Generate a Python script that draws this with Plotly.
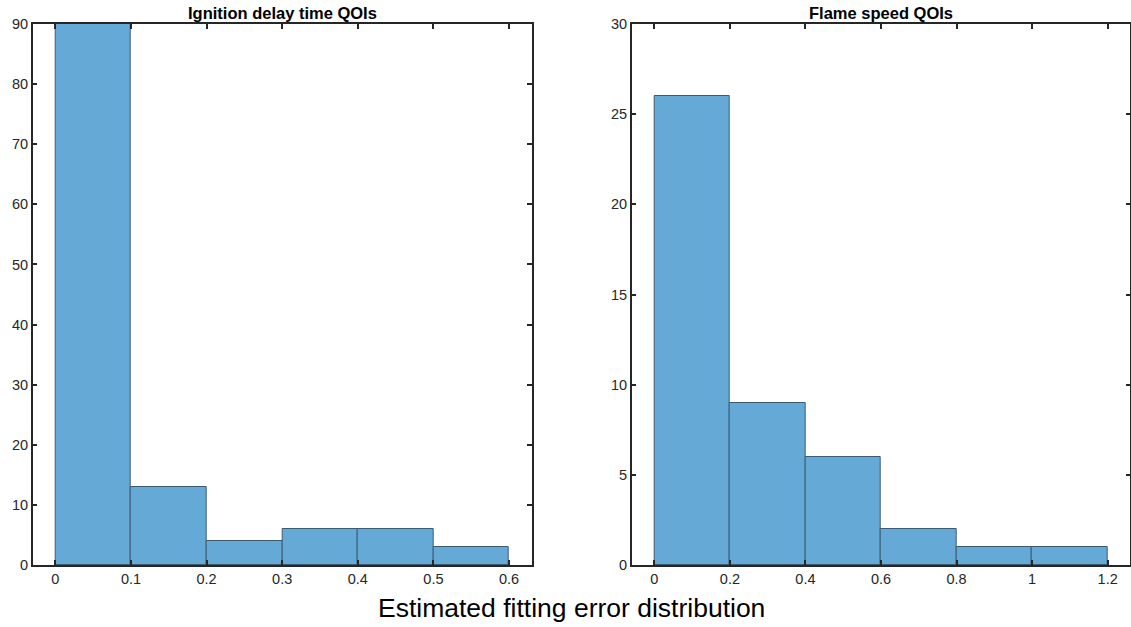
import plotly.graph_objects as go

# Histogram bins and counts
ign_edges = [0.0, 0.1, 0.2, 0.3, 0.4, 0.5, 0.6]
ign_counts = [90, 13, 4, 6, 6, 3]

fs_edges = [0.0, 0.2, 0.4, 0.6, 0.8, 1.0, 1.2]
fs_counts = [26, 9, 6, 2, 1, 1]

ign_xticks = [0, 0.1, 0.2, 0.3, 0.4, 0.5, 0.6]
ign_xlabels = ["0", "0.1", "0.2", "0.3", "0.4", "0.5", "0.6"]
fs_xticks = [0, 0.2, 0.4, 0.6, 0.8, 1.0, 1.2]
fs_xlabels = ["0", "0.2", "0.4", "0.6", "0.8", "1", "1.2"]
ign_yticks = list(range(0, 91, 10))
fs_yticks = list(range(0, 31, 5))

W, H = 1131, 627
FONT = "Liberation Sans, Arial, Helvetica, sans-serif"
BAR = "#65aad7"
EDGE = "#3d5b70"
TXT = "#262626"


def bars(edges, counts, xa, ya):
    centers = [(a + b) / 2 for a, b in zip(edges[:-1], edges[1:])]
    widths = [b - a for a, b in zip(edges[:-1], edges[1:])]
    return go.Bar(
        x=centers, y=counts, width=widths,
        marker=dict(color=BAR, line=dict(color=EDGE, width=1)),
        xaxis=xa, yaxis=ya, showlegend=False, hoverinfo="skip",
    )


fig = go.Figure()
fig.add_trace(bars(ign_edges, ign_counts, "x", "y"))
fig.add_trace(bars(fs_edges, fs_counts, "x2", "y2"))

ydom = [1 - 565 / H, 1 - 24 / H]
common = dict(
    showline=True, linecolor="#262626", linewidth=1.5, mirror="ticks",
    ticks="inside", ticklen=5, tickwidth=1.5, tickcolor="#262626",
    showgrid=False, zeroline=False, automargin=False,
    tickfont=dict(family=FONT, size=14.5, color=TXT),
)

fig.update_layout(
    width=W, height=H,
    margin=dict(l=0, r=0, t=0, b=0, autoexpand=False),
    paper_bgcolor="white", plot_bgcolor="white",
    bargap=0,
    xaxis=dict(domain=[32.7 / W, 531.7 / W], range=[-0.03, 0.63],
               tickvals=ign_xticks, ticktext=ign_xlabels, anchor="y", **common),
    yaxis=dict(domain=ydom, range=[0, 90], tickvals=ign_yticks, anchor="x", **common),
    xaxis2=dict(domain=[631.7 / W, 1130.3 / W], range=[-0.06, 1.26],
                tickvals=fs_xticks, ticktext=fs_xlabels, anchor="y2", **common),
    yaxis2=dict(domain=ydom, range=[0, 30], tickvals=fs_yticks, anchor="x2", **common),
    annotations=[
        dict(text="<b>Ignition delay time QOIs</b>", xref="paper", yref="paper",
             x=(32.7 + 531.7) / 2 / W, y=1 - 13 / H, showarrow=False,
             font=dict(family=FONT, size=16.5, color="black"),
             xanchor="center", yanchor="middle"),
        dict(text="<b>Flame speed QOIs</b>", xref="paper", yref="paper",
             x=(631.7 + 1130.3) / 2 / W, y=1 - 13 / H, showarrow=False,
             font=dict(family=FONT, size=16.5, color="black"),
             xanchor="center", yanchor="middle"),
        dict(text="Estimated fitting error distribution", xref="paper", yref="paper",
             x=571 / W, y=1 - 608 / H, showarrow=False,
             font=dict(family=FONT, size=26.5, color="black"),
             xanchor="center", yanchor="middle"),
    ],
)

fig.write_html("out.html")
